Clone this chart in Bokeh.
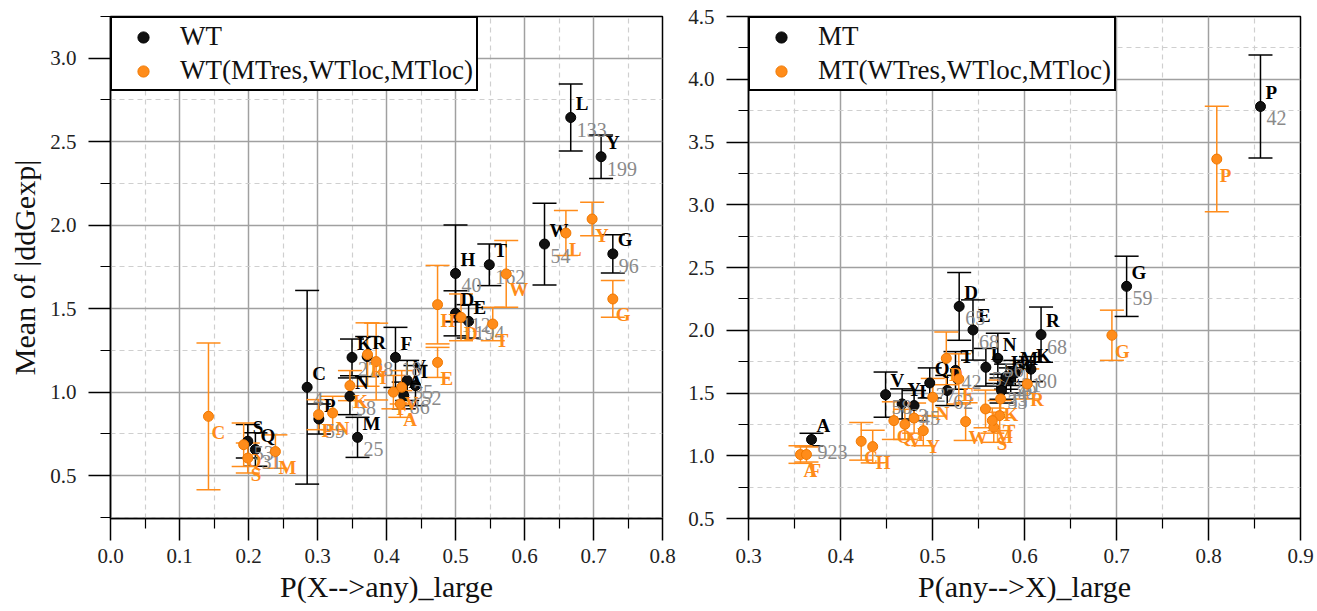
from bokeh.plotting import figure
from bokeh.models import (ColumnDataSource, Whisker, TeeHead, Legend, LegendItem,
                          FixedTicker, PrintfTickFormatter, Range1d)
from bokeh.layouts import row
from bokeh.core.properties import value
from bokeh.embed import file_html
from bokeh.resources import INLINE

# ---------------- data: left panel (WT) ----------------
wt_lab = ["L", "Y", "G", "W", "T", "H", "D", "E", "C", "P", "N", "K", "R", "F", "V", "I", "M", "S", "Q", "A"]
wt_x = [0.667, 0.711, 0.728, 0.629, 0.549, 0.500, 0.500, 0.519, 0.285, 0.302, 0.347, 0.350, 0.372, 0.413, 0.430, 0.442, 0.358, 0.199, 0.210, 0.425]
wt_y = [2.645, 2.41, 1.828, 1.887, 1.763, 1.711, 1.472, 1.424, 1.029, 0.839, 0.975, 1.208, 1.213, 1.208, 1.07, 1.039, 0.729, 0.706, 0.656, 0.98]
wt_err = [0.20, 0.13, 0.115, 0.245, 0.125, 0.29, 0.135, 0.10, 0.58, 0.09, 0.11, 0.11, 0.12, 0.18, 0.12, 0.12, 0.12, 0.10, 0.10, 0.08]
wt_cnt = ["133", "199", "96", "54", "162", "40", "112", "194", "4", "59", "58", "27", "28", "18", "35", "52", "25", "53", "31", "86"]

wtm_lab = ["C", "M", "Q", "S", "P", "N", "K", "R", "I", "V", "A", "F", "E", "H", "D", "T", "W", "L", "Y", "G"]
wtm_x = [0.142, 0.239, 0.193, 0.199, 0.3015, 0.322, 0.347, 0.3725, 0.385, 0.422, 0.420, 0.41, 0.474, 0.474, 0.508, 0.554, 0.5735, 0.660, 0.698, 0.728]
wtm_y = [0.855, 0.644, 0.685, 0.605, 0.865, 0.875, 1.039, 1.225, 1.183, 1.029, 0.929, 1.0, 1.178, 1.524, 1.448, 1.408, 1.708, 1.953, 2.037, 1.558]
wtm_err = [0.44, 0.10, 0.13, 0.09, 0.09, 0.10, 0.09, 0.19, 0.23, 0.10, 0.08, 0.10, 0.09, 0.235, 0.14, 0.10, 0.20, 0.135, 0.10, 0.11]

# ---------------- data: right panel (MT) ----------------
mt_lab = ["P", "G", "R", "D", "E", "N", "K", "L", "T", "Q", "S", "V", "Y", "I", "A", "W", "M", "F", "H", "C"]
mt_x = [0.8565, 0.711, 0.618, 0.529, 0.544, 0.571, 0.607, 0.558, 0.525, 0.497, 0.516, 0.449, 0.467, 0.48, 0.3685, 0.585, 0.59, 0.575, 0.58, 0.575]
mt_y = [3.783, 2.35, 1.965, 2.19, 2.002, 1.776, 1.69, 1.705, 1.68, 1.58, 1.52, 1.487, 1.413, 1.40, 1.129, 1.60, 1.66, 1.55, 1.63, 1.52]
mt_err = [0.41, 0.24, 0.22, 0.27, 0.24, 0.20, 0.10, 0.15, 0.15, 0.12, 0.12, 0.18, 0.12, 0.12, 0.05, 0.10, 0.10, 0.10, 0.10, 0.10]
mt_cnt = ["42", "59", "68", "65", "68", "56", "80", "57", "42", "27", "62", "58", "63", "45", "923", "49", "21", "35", "36", "33"]

mtw_lab = ["P", "G", "A", "F", "C", "H", "Q", "I", "Y", "N", "D", "E", "W", "L", "S", "T", "K", "R", "V", "M"]
mtw_x = [0.809, 0.695, 0.3565, 0.363, 0.4225, 0.435, 0.458, 0.48, 0.49, 0.5003, 0.515, 0.5286, 0.536, 0.5576, 0.5666, 0.573, 0.574, 0.603, 0.47, 0.565]
mtw_y = [3.364, 1.96, 1.0096, 1.01, 1.115, 1.073, 1.28, 1.30, 1.2, 1.466, 1.776, 1.612, 1.272, 1.373, 1.227, 1.32, 1.453, 1.572, 1.25, 1.28]
mtw_err = [0.42, 0.20, 0.07, 0.06, 0.15, 0.13, 0.15, 0.12, 0.12, 0.15, 0.21, 0.20, 0.15, 0.15, 0.12, 0.12, 0.15, 0.12, 0.12, 0.10]

# ticks
left_xticks = [0.0, 0.1, 0.2, 0.3, 0.4, 0.5, 0.6, 0.7, 0.8]
left_xminor = [0.05, 0.15, 0.25, 0.35, 0.45, 0.55, 0.65, 0.75]
left_yticks = [0.5, 1.0, 1.5, 2.0, 2.5, 3.0]
left_yminor = [0.25, 0.75, 1.25, 1.75, 2.25, 2.75, 3.25]
right_xticks = [0.3, 0.4, 0.5, 0.6, 0.7, 0.8, 0.9]
right_xminor = [0.35, 0.45, 0.55, 0.65, 0.75, 0.85]
right_yticks = [0.5, 1.0, 1.5, 2.0, 2.5, 3.0, 3.5, 4.0, 4.5]
right_yminor = [0.75, 1.25, 1.75, 2.25, 2.75, 3.25, 3.75, 4.25]

BLACK = "#000000"
ORANGE = "#FF8C1A"
GRAY = "#8a8a8a"
FONT = "Liberation Serif"


def src(lab, x, y, err, cnt=None):
    d = dict(lab=lab, x=x, y=y,
             lower=[a - e for a, e in zip(y, err)],
             upper=[a + e for a, e in zip(y, err)])
    if cnt is not None:
        d["cnt"] = cnt
    return ColumnDataSource(d)


def panel(width, bl, br, xr, yr, xt, xm, yt, ym, xlabel, ylabel,
          s1, s2, name1, name2):
    p = figure(width=width, height=611, x_range=Range1d(*xr), y_range=Range1d(*yr),
               output_backend="svg", toolbar_location=None,
               min_border_left=bl, min_border_right=br,
               min_border_top=16, min_border_bottom=93)
    p.outline_line_color = "black"
    p.outline_line_width = 1.5
    p.outline_line_alpha = 1
    p.background_fill_color = "white"

    p.xaxis.ticker = FixedTicker(ticks=xt, minor_ticks=xm)
    p.yaxis.ticker = FixedTicker(ticks=yt, minor_ticks=ym)
    for ax in (p.xaxis[0], p.yaxis[0]):
        ax.formatter = PrintfTickFormatter(format="%.1f")
        ax.major_tick_out = 22
        ax.major_tick_in = 0
        ax.minor_tick_out = 10
        ax.minor_tick_in = 0
        ax.axis_line_width = 1.5
        ax.major_tick_line_width = 1.5
        ax.minor_tick_line_width = 1.2
        ax.major_label_text_font = FONT
        ax.major_label_text_font_size = "21px"
        ax.major_label_text_color = "#222222"
        ax.axis_label_text_font = FONT
        ax.axis_label_text_font_size = "30px"
        ax.axis_label_text_font_style = "normal"
        ax.axis_label_text_color = "#111111"
    p.xaxis.major_label_standoff = 8
    p.yaxis.major_label_standoff = 12
    p.xaxis.axis_label_standoff = 4
    p.yaxis.axis_label_standoff = 6
    p.xaxis.axis_label = xlabel
    if ylabel:
        p.yaxis.axis_label = ylabel

    for g in (p.xgrid[0], p.ygrid[0]):
        g.grid_line_color = "#a0a0a0"
        g.grid_line_width = 1.5
        g.minor_grid_line_color = "#cfcfcf"
        g.minor_grid_line_width = 1.2
        g.minor_grid_line_dash = "5 4"
    p.xgrid.ticker = FixedTicker(ticks=xt, minor_ticks=xm)
    p.ygrid.ticker = FixedTicker(ticks=yt, minor_ticks=ym)

    # black series
    w1 = Whisker(base="x", upper="upper", lower="lower", source=s1,
                 line_color=BLACK, line_width=1.5,
                 upper_head=TeeHead(size=24, line_color=BLACK, line_width=1.5),
                 lower_head=TeeHead(size=24, line_color=BLACK, line_width=1.5))
    p.add_layout(w1)
    r1 = p.scatter("x", "y", source=s1, size=10, fill_color="#111111",
                   line_color="#000000", line_width=1)
    p.text("x", "y", text="lab", source=s1, x_offset=5, y_offset=-14,
           text_font=value(FONT), text_font_style="bold", text_font_size="19px",
           text_baseline="middle", text_align="left", text_color=BLACK)
    p.text("x", "y", text="cnt", source=s1, x_offset=6, y_offset=12,
           text_font=value(FONT), text_font_size="20px",
           text_baseline="middle", text_align="left", text_color=GRAY)

    # orange series
    w2 = Whisker(base="x", upper="upper", lower="lower", source=s2,
                 line_color=ORANGE, line_width=1.5,
                 upper_head=TeeHead(size=24, line_color=ORANGE, line_width=1.5),
                 lower_head=TeeHead(size=24, line_color=ORANGE, line_width=1.5))
    p.add_layout(w2)
    r2 = p.scatter("x", "y", source=s2, size=10, fill_color=ORANGE,
                   line_color="#F07800", line_width=1)
    p.text("x", "y", text="lab", source=s2, x_offset=3, y_offset=16,
           text_font=value(FONT), text_font_style="bold", text_font_size="19px",
           text_baseline="middle", text_align="left", text_color=ORANGE)

    leg = Legend(items=[LegendItem(label=name1, renderers=[r1]),
                        LegendItem(label=name2, renderers=[r2])],
                 location="top_left", margin=0, padding=3, spacing=3,
                 label_height=28, glyph_height=28, glyph_width=56,
                 label_standoff=9, border_line_color="black", border_line_width=2,
                 border_line_alpha=1,
                 label_text_font=FONT, label_text_font_size="27px",
                 label_text_color="#111111",
                 background_fill_color="white", background_fill_alpha=1)
    p.add_layout(leg)
    return p


left = panel(680, 110, 18, (0.0, 0.8), (0.243, 3.25),
             left_xticks, left_xminor, left_yticks, left_yminor,
             "P(X-->any)_large", "Mean of |ddGexp|",
             src(wt_lab, wt_x, wt_y, wt_err, wt_cnt),
             src(wtm_lab, wtm_x, wtm_y, wtm_err),
             "WT", "WT(MTres,WTloc,MTloc)")

right = panel(637, 68, 17, (0.3, 0.9), (0.5, 4.5),
              right_xticks, right_xminor, right_yticks, right_yminor,
              "P(any-->X)_large", None,
              src(mt_lab, mt_x, mt_y, mt_err, mt_cnt),
              src(mtw_lab, mtw_x, mtw_y, mtw_err),
              "MT", "MT(WTres,WTloc,MTloc)")

layout = row(left, right)
open("out.html", "w").write(file_html(layout, INLINE))
